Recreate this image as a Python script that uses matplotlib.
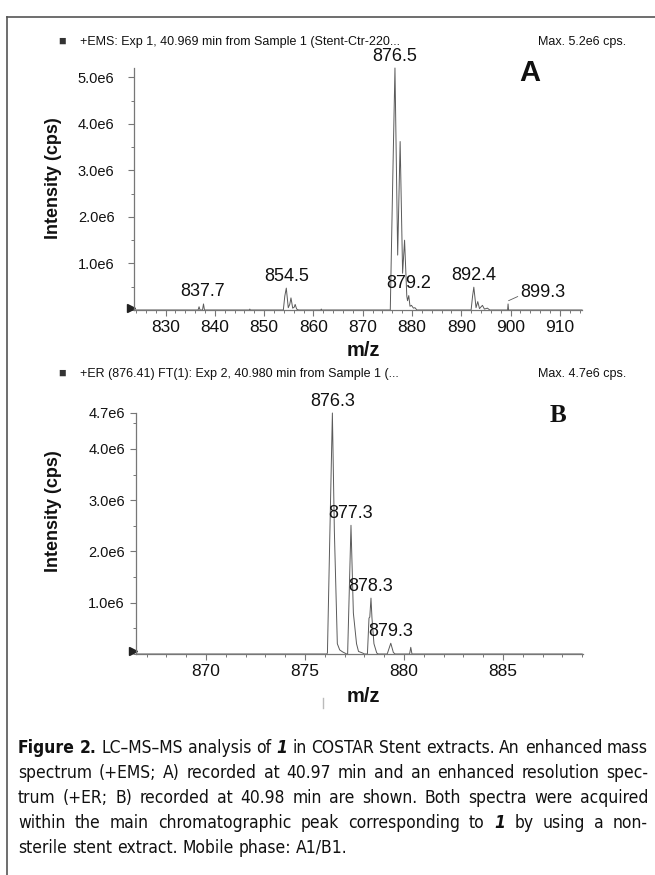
import matplotlib
matplotlib.use("Agg")
import numpy as np
import matplotlib.pyplot as plt
from matplotlib import font_manager
from matplotlib.lines import Line2D
from matplotlib.ticker import MultipleLocator, FixedLocator, FuncFormatter
from matplotlib.transforms import blended_transform_factory

plt.rcParams['font.family'] = ['Liberation Sans', 'DejaVu Sans']

W, H = 655, 875

# panel A (+EMS) profile trace: m/z and intensity (x1e6 cps)
mz_a = [823.6,
        836.6, 836.8, 837.0, 837.5, 837.7, 837.9,
        847.0, 847.1, 847.2,
        853.9, 854.2, 854.5, 854.9, 855.2, 855.45, 855.8, 856.1, 856.3, 856.6, 857.0,
        861.5, 861.6, 861.7,
        875.6, 876.1, 876.55, 877.1, 877.6, 878.1, 878.5, 878.95, 879.1, 879.35,
        879.6, 879.9, 880.3, 880.6, 881.0,
        892.0, 892.3, 892.55, 893.0, 893.35, 893.7, 894.3, 894.7, 895.3, 895.8,
        899.4, 899.5, 899.6,
        914.5]
cps_a = [0,
         0, 0.07, 0, 0, 0.13, 0,
         0, 0.02, 0,
         0, 0.3, 0.47, 0.05, 0.12, 0.26, 0.04, 0.06, 0.12, 0.02, 0,
         0, 0.02, 0,
         0, 2.8, 5.2, 1.18, 3.62, 0.79, 1.5, 0.3, 0.2, 0.31,
         0.08, 0.1, 0.04, 0.05, 0,
         0, 0.3, 0.49, 0.05, 0.18, 0.03, 0.1, 0.02, 0.04, 0,
         0, 0.13, 0,
         0]
labels_a = ["837.7", "854.5", "876.5", "879.2", "892.4"]
label_mz_a = [837.6, 854.6, 876.55, 879.35, 892.55]
label_cps_a = [0.13, 0.47, 5.2, 0.31, 0.49]

# panel B (+ER) profile trace
mz_b = [866.5,
        876.1, 876.13, 876.25, 876.38, 876.48, 876.63, 876.75, 876.9, 877.0, 877.1,
        877.15, 877.32, 877.44, 877.6, 877.7, 877.9, 878.0,
        878.15, 878.23, 878.27, 878.33, 878.38, 878.48, 878.62, 878.7,
        879.15, 879.33, 879.46, 879.55,
        880.28, 880.34, 880.4,
        889.0]
cps_b = [0,
         0, 0.02, 2.3, 4.7, 2.4, 0.2, 0.08, 0.04, 0.02, 0,
         0, 2.51, 0.8, 0.2, 0.05, 0.02, 0,
         0, 0.7, 0.72, 1.09, 0.7, 0.2, 0.02, 0,
         0, 0.21, 0.03, 0,
         0, 0.13, 0,
         0]
labels_b = ["876.3", "877.3", "878.3", "879.3"]
label_mz_b = [876.38, 877.32, 878.33, 879.33]
label_cps_b = [4.7, 2.51, 1.09, 0.21]

yticks_a = [1.0, 2.0, 3.0, 4.0, 5.0]
yticks_b = [1.0, 2.0, 3.0, 4.0, 4.7]

axis_gray = "#777777"
trace_gray = "#5a5a5a"
ink = "#111111"


def fx(px):
    return px / W


def fy(py):
    return 1 - py / H


fig = plt.figure(figsize=(W / 100, H / 100), dpi=100)

ax_a = fig.add_axes([fx(134), fy(310), fx(582) - fx(134), fy(68) - fy(310)])
ax_b = fig.add_axes([fx(136), fy(654), fx(583) - fx(136), fy(413) - fy(654)])


def setup(ax, xlim, ymax, xminor, yticks, ypad):
    ax.set_xlim(*xlim)
    ax.set_ylim(0, ymax * 1e6)
    for s in ("top", "right"):
        ax.spines[s].set_visible(False)
    for s in ("left", "bottom"):
        ax.spines[s].set_color(axis_gray)
        ax.spines[s].set_linewidth(0.9)
    ax.xaxis.set_minor_locator(MultipleLocator(xminor))
    ax.yaxis.set_major_locator(FixedLocator([v * 1e6 for v in yticks]))
    ax.yaxis.set_minor_locator(MultipleLocator(0.5e6))
    ax.yaxis.set_major_formatter(FuncFormatter(lambda v, p: f"{v / 1e6:.1f}e6"))
    ax.tick_params(axis="x", which="major", length=4, width=0.8, color=axis_gray,
                   labelsize=12.5, pad=3, labelcolor=ink)
    ax.tick_params(axis="x", which="minor", length=2.5, width=0.7, color=axis_gray)
    ax.tick_params(axis="y", which="major", length=4, width=0.8, color=axis_gray,
                   labelsize=10.5, pad=ypad, labelcolor=ink)
    ax.tick_params(axis="y", which="minor", length=2.5, width=0.7, color=axis_gray)
    tr = blended_transform_factory(ax.transAxes, ax.transData)
    ax.plot([-0.006], [0.05e6], marker=">", ms=6, color="#222222",
            transform=tr, clip_on=False)


setup(ax_a, (823.6, 914.5), 5.2, 2, yticks_a, 10)
ax_a.xaxis.set_major_locator(MultipleLocator(10))
setup(ax_b, (866.46, 889.04), 4.7, 1, yticks_b, 4)
ax_b.xaxis.set_major_locator(MultipleLocator(5))

ax_a.plot(mz_a, np.array(cps_a) * 1e6, color=trace_gray, lw=0.7, clip_on=False)
ax_b.plot(mz_b, np.array(cps_b) * 1e6, color=trace_gray, lw=0.7, clip_on=False)

for txt, x, y in zip(labels_a, label_mz_a, label_cps_a):
    ax_a.annotate(txt, (x, y * 1e6), xytext=(0, 2.5), textcoords="offset points",
                  ha="center", va="bottom", fontsize=13, color=ink)
ax_a.annotate("899.3", (899.6, 0.2e6), xytext=(12, 8), textcoords="offset pixels",
              ha="left", va="center", fontsize=13, color=ink,
              arrowprops=dict(arrowstyle="-", color=trace_gray, lw=0.6,
                              shrinkA=0, shrinkB=0, relpos=(0, 0.35)))
for txt, x, y in zip(labels_b, label_mz_b, label_cps_b):
    ax_b.annotate(txt, (x, y * 1e6), xytext=(0, 2.5), textcoords="offset points",
                  ha="center", va="bottom", fontsize=13, color=ink)

# axis titles
for cy in (178, 511):
    fig.text(fx(53), fy(cy), "Intensity (cps)", rotation=90, ha="center", va="center",
             fontsize=13, fontweight="bold", color=ink)
for cy in (351, 697):
    fig.text(fx(363), fy(cy), "m/z", ha="center", va="center",
             fontsize=14.5, fontweight="bold", color=ink)
fig.add_artist(Line2D([fx(323), fx(323)], [fy(698), fy(708)], transform=fig.transFigure,
                      color="#bbbbbb", lw=1))

# spectrum headers
headers = [("+EMS: Exp 1, 40.969 min from Sample 1 (Stent-Ctr-220...", "Max. 5.2e6 cps.", 42),
           ("+ER (876.41) FT(1): Exp 2, 40.980 min from Sample 1 (...", "Max. 4.7e6 cps.", 374)]
for left, right, cy in headers:
    fig.text(fx(62), fy(cy), "\u25a0", ha="center", va="center", fontsize=9, color="#333333")
    fig.text(fx(80), fy(cy), left, ha="left", va="center", fontsize=9, color=ink)
    fig.text(fx(626), fy(cy), right, ha="right", va="center", fontsize=9, color=ink)

fig.text(fx(530), fy(73), "A", ha="center", va="center", fontsize=21,
         fontweight="heavy", color=ink)
fig.text(fx(558), fy(415), "B", ha="center", va="center", fontsize=18,
         fontweight="bold", color=ink, family=["Liberation Serif", "DejaVu Serif"])

# frame of the figure box
fig.add_artist(Line2D([fx(7), fx(7)], [fy(17), 0], transform=fig.transFigure,
                      color="#555555", lw=1.2))
fig.add_artist(Line2D([fx(7), 1], [fy(17), fy(17)], transform=fig.transFigure,
                      color="#555555", lw=1.2))


# caption font: prefer a narrow face if one is installed
def pick_caption_font():
    tries = [dict(family="Liberation Sans Narrow"),
             dict(family="DejaVu Sans", stretch="condensed"),
             dict(family="Lato")]
    for kw in tries:
        try:
            path = font_manager.findfont(font_manager.FontProperties(**kw),
                                         fallback_to_default=False)
        except Exception:
            continue
        name = path.lower()
        if "stretch" in kw and "condensed" not in name:
            continue
        if "narrow" in kw["family"].lower() and "narrow" not in name:
            continue
        return kw
    return dict(family="Lato")


cap_font = pick_caption_font()
cap_font["family"] = [cap_font["family"], "DejaVu Sans"]

cap_lines = [
    "Figure 2. LC\u2013MS\u2013MS analysis of 1 in COSTAR Stent extracts. An enhanced mass",
    "spectrum (+EMS; A) recorded at 40.97 min and an enhanced resolution spec-",
    "trum (+ER; B) recorded at 40.98 min are shown. Both spectra were acquired",
    "within the main chromatographic peak corresponding to 1 by using a non-",
    "sterile stent extract. Mobile phase: A1/B1.",
]
cap_left, cap_right = 18, 648
baselines = [753, 778, 803, 828, 853]

renderer = fig.canvas.get_renderer()


def style_of(li, wi, word):
    if li == 0 and wi < 2:
        return dict(fontweight="bold")
    if word == "1":
        return dict(fontweight="bold", fontstyle="italic")
    return {}


def width(s, fs, **kw):
    t = fig.text(0, 0, s, fontsize=fs, **cap_font, **kw)
    w = t.get_window_extent(renderer).width
    t.remove()
    return w


def natural_width(li, fs):
    words = cap_lines[li].split(" ")
    sp = width("a a", fs) - width("aa", fs)
    return sum(width(w, fs, **style_of(li, wi, w)) for wi, w in enumerate(words)) \
        + sp * (len(words) - 1)


fs0 = 10
widest = max(natural_width(li, fs0) for li in range(4))
cap_fs = min(15, fs0 * (cap_right - cap_left) / widest)
space_w = width("a a", cap_fs) - width("aa", cap_fs)

for li, line in enumerate(cap_lines):
    words = line.split(" ")
    styles = [style_of(li, wi, w) for wi, w in enumerate(words)]
    ws = [width(w, cap_fs, **st) for w, st in zip(words, styles)]
    if li < len(cap_lines) - 1:
        gap = (cap_right - cap_left - sum(ws)) / (len(words) - 1)
    else:
        gap = space_w
    x = cap_left
    for w, st, wd in zip(words, styles, ws):
        fig.text(fx(x), fy(baselines[li]), w, ha="left", va="baseline",
                 fontsize=cap_fs, color=ink, **cap_font, **st)
        x += wd + gap

fig.savefig("out.png", dpi=100)
